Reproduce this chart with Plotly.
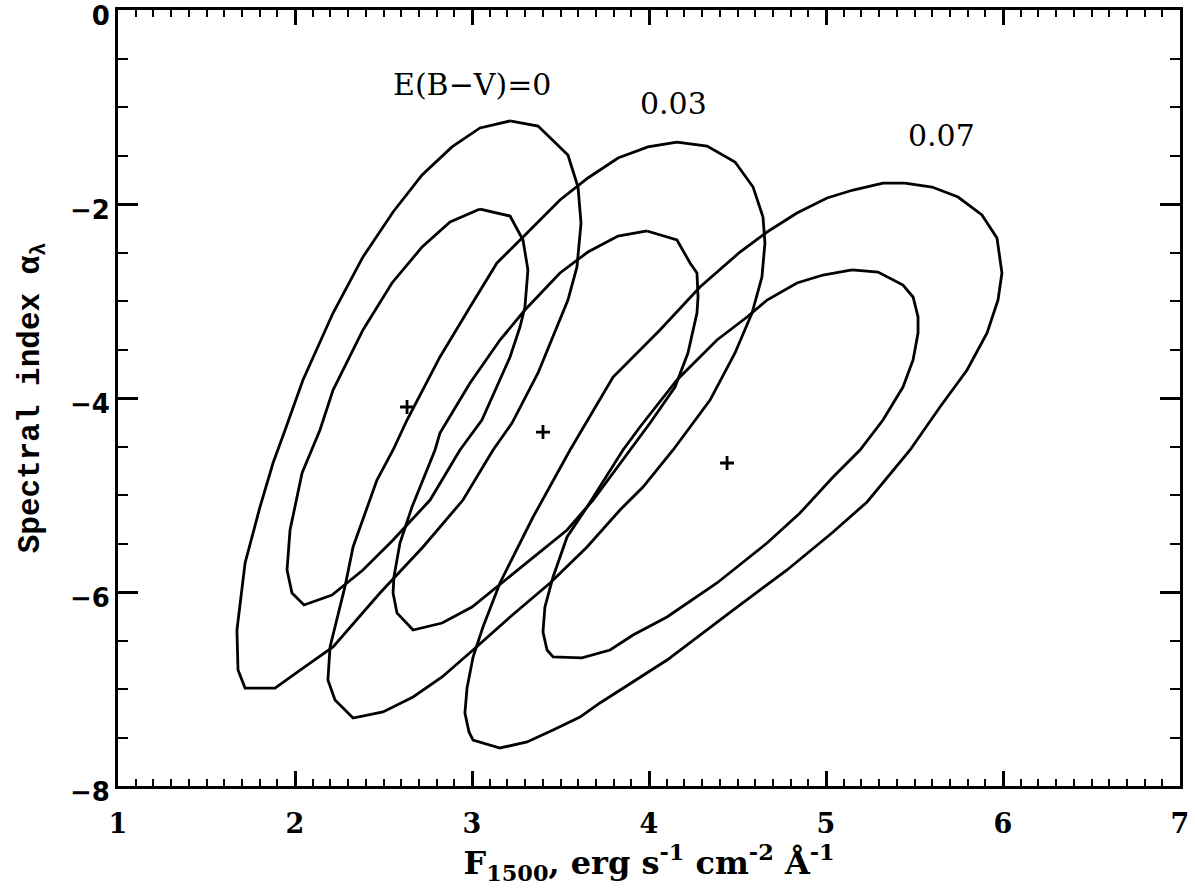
import plotly.graph_objects as go

# ---- data ----
ebv_labels = ["E(B\u2212V)=0", "0.03", "0.07"]
label_x = [3.0, 4.14, 5.655]
label_y = [-0.77, -0.96, -1.29]

center_x = [2.633, 3.401, 4.441]
center_y = [-4.093, -4.351, -4.670]

# E(B-V)=0, outer contour
e0_outer_x = [3.215, 3.373, 3.542, 3.599, 3.616, 3.593, 3.542, 3.373, 3.226, 3.119, 2.949, 2.723,
              2.480, 2.215, 2.045, 1.887, 1.718, 1.678, 1.672, 1.718, 1.802, 1.876, 1.944, 2.045,
              2.215, 2.384, 2.554, 2.718, 2.887, 3.045, 3.215]
e0_outer_y = [-1.144, -1.196, -1.495, -1.825, -2.196, -2.649, -2.990, -3.742, -4.258, -4.536, -5.052, -5.536,
              -6.010, -6.567, -6.784, -6.990, -6.990, -6.804, -6.392, -5.701, -5.124, -4.670, -4.330, -3.814,
              -3.124, -2.546, -2.082, -1.701, -1.412, -1.216, -1.144]
# E(B-V)=0, inner contour
e0_inner_x = [3.045, 3.215, 3.288, 3.316, 3.299, 3.271, 3.215, 3.056, 2.932, 2.763, 2.554, 2.384,
              2.209, 2.051, 1.983, 1.955, 1.972, 2.040, 2.141, 2.215, 2.384, 2.548, 2.718, 2.876, 3.045]
e0_inner_y = [-2.052, -2.124, -2.371, -2.680, -3.062, -3.268, -3.577, -4.227, -4.536, -5.052, -5.464, -5.773,
              -6.031, -6.134, -6.010, -5.773, -5.361, -4.773, -4.330, -3.918, -3.299, -2.814, -2.443, -2.186, -2.052]

# E(B-V)=0.03, outer contour
e3_outer_x = [4.158, 4.328, 4.486, 4.588, 4.644, 4.655, 4.638, 4.582, 4.486, 4.345, 4.136, 3.966,
              3.836, 3.650, 3.441, 3.215, 3.006, 2.831, 2.667, 2.497, 2.328, 2.226, 2.186, 2.198,
              2.282, 2.328, 2.463, 2.554, 2.633, 2.819, 2.989, 3.141, 3.311, 3.497, 3.655, 3.825,
              3.994, 4.158]
e3_outer_y = [-1.361, -1.402, -1.567, -1.825, -2.134, -2.402, -2.753, -3.124, -3.536, -4.021, -4.536, -4.918,
              -5.155, -5.536, -5.907, -6.258, -6.598, -6.876, -7.082, -7.237, -7.299, -7.113, -6.907, -6.567,
              -5.948, -5.536, -4.845, -4.536, -4.227, -3.577, -3.062, -2.608, -2.299, -1.959, -1.732, -1.526,
              -1.412, -1.361]
# E(B-V)=0.03, inner contour
e3_inner_x = [3.989, 4.158, 4.232, 4.271, 4.277, 4.271, 4.220, 4.147, 4.006, 3.893, 3.684, 3.537,
              3.328, 3.141, 3.000, 2.831, 2.667, 2.576, 2.554, 2.559, 2.593, 2.661, 2.791, 2.819,
              2.989, 3.158, 3.299, 3.497, 3.655, 3.825, 3.989]
e3_inner_y = [-2.278, -2.371, -2.608, -2.711, -2.959, -3.124, -3.536, -3.887, -4.258, -4.536, -5.052, -5.361,
              -5.670, -5.948, -6.155, -6.320, -6.392, -6.216, -6.010, -5.845, -5.495, -5.124, -4.536, -4.361,
              -3.845, -3.402, -3.093, -2.711, -2.495, -2.330, -2.278]

# E(B-V)=0.07, outer contour
e7_outer_x = [5.446, 5.599, 5.746, 5.881, 5.966, 5.994, 5.972, 5.910, 5.797, 5.644, 5.475, 5.232,
              5.040, 4.780, 4.475, 4.102, 3.723, 3.610, 3.458, 3.311, 3.158, 3.006, 2.983, 2.960,
              2.972, 3.006, 3.062, 3.158, 3.345, 3.554, 3.797, 4.062, 4.288, 4.514, 4.667, 4.836,
              5.006, 5.153, 5.322, 5.446]
e7_outer_y = [-1.784, -1.825, -1.928, -2.113, -2.351, -2.711, -2.990, -3.330, -3.711, -4.093, -4.536, -5.072,
              -5.381, -5.773, -6.186, -6.701, -7.144, -7.289, -7.423, -7.546, -7.608, -7.526, -7.443, -7.247,
              -6.990, -6.670, -6.361, -5.907, -5.227, -4.536, -3.784, -3.299, -2.856, -2.495, -2.289, -2.093,
              -1.938, -1.856, -1.784, -1.784]
# E(B-V)=0.07, inner contour
e7_inner_x = [5.147, 5.294, 5.435, 5.492, 5.520, 5.520, 5.492, 5.435, 5.322, 5.192, 5.040, 4.853,
              4.667, 4.384, 4.102, 3.910, 3.780, 3.621, 3.458, 3.424, 3.401, 3.412, 3.458, 3.537,
              3.650, 3.780, 3.853, 3.949, 4.158, 4.384, 4.554, 4.667, 4.836, 4.983, 5.147]
e7_inner_y = [-2.680, -2.701, -2.835, -2.959, -3.165, -3.330, -3.608, -3.887, -4.227, -4.536, -4.814, -5.186,
              -5.495, -5.907, -6.258, -6.443, -6.598, -6.680, -6.670, -6.598, -6.412, -6.155, -5.845, -5.433,
              -5.124, -4.742, -4.536, -4.299, -3.814, -3.402, -3.165, -2.990, -2.814, -2.732, -2.680]

contours = [
    (e0_outer_x, e0_outer_y), (e0_inner_x, e0_inner_y),
    (e3_outer_x, e3_outer_y), (e3_inner_x, e3_inner_y),
    (e7_outer_x, e7_outer_y), (e7_inner_x, e7_inner_y),
]

fig = go.Figure()
for cx, cy in contours:
    fig.add_trace(go.Scatter(x=cx, y=cy, mode="lines",
                             line=dict(color="black", width=2.8),
                             hoverinfo="skip", showlegend=False))

fig.add_trace(go.Scatter(x=center_x, y=center_y, mode="markers",
                         marker=dict(symbol="cross-thin", size=10,
                                     line=dict(color="black", width=2.8)),
                         showlegend=False))

for t, lx, ly in zip(ebv_labels, label_x, label_y):
    fig.add_annotation(x=lx, y=ly, text=t, showarrow=False,
                       font=dict(family="DejaVu Serif", size=30, color="black"))

fig.update_layout(
    width=1195, height=890,
    margin=dict(l=118, r=15, t=10, b=104),
    plot_bgcolor="white", paper_bgcolor="white",
    showlegend=False,
)
fig.update_xaxes(
    range=[1, 7], dtick=1, tick0=1, automargin=False, ticklabeloverflow="allow",
    ticklabelstandoff=12,
    showgrid=False, zeroline=False,
    showline=True, linecolor="black", linewidth=3, mirror="allticks",
    ticks="inside", ticklen=15, tickwidth=2.5, tickcolor="black",
    minor=dict(dtick=0.1, ticks="inside", ticklen=7, tickwidth=2, tickcolor="black"),
    tickfont=dict(family="DejaVu Serif", size=27, color="black", weight="bold"),
    title=dict(text="F<sub>1500</sub>, erg s<sup>-1</sup> cm<sup>-2</sup> \u00c5<sup>-1</sup>",
               font=dict(family="DejaVu Serif", size=32, color="black", weight="bold"),
               standoff=0),
)
fig.update_yaxes(
    range=[-8, 0], dtick=2, tick0=0, automargin=False, ticklabeloverflow="allow",
    ticklabelshift=6,
    showgrid=False, zeroline=False,
    showline=True, linecolor="black", linewidth=3, mirror="allticks",
    ticks="inside", ticklen=20, tickwidth=2.5, tickcolor="black",
    minor=dict(dtick=0.5, ticks="inside", ticklen=10, tickwidth=2, tickcolor="black"),
    tickfont=dict(family="DejaVu Sans", size=26, color="black", weight="bold"),
    title=dict(text="Spectral index \u03b1<sub>\u03bb</sub>",
               font=dict(family="Liberation Mono", size=31, color="black", weight="bold"),
               standoff=22),
)

fig.write_html("out.html",
               config={"displayModeBar": False},
               post_script="document.body.style.margin='0';document.body.style.overflow='hidden';")
